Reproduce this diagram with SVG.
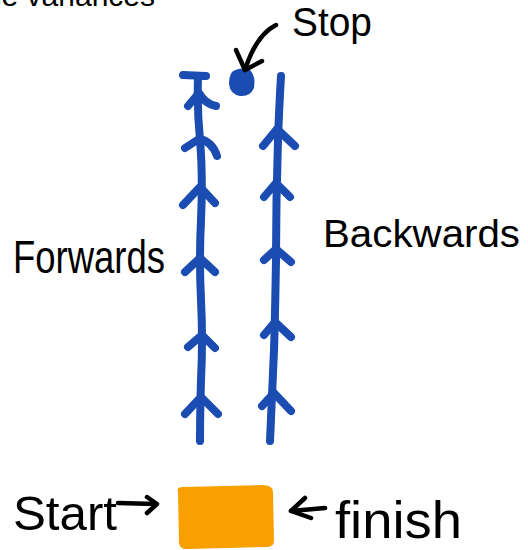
<svg xmlns="http://www.w3.org/2000/svg" width="528" height="550" viewBox="0 0 528 550">
<style>
.lbl{font-family:"Liberation Sans",Arial,sans-serif;fill:#000}
.blue{fill:none;stroke:#1a4cb2;stroke-width:8;stroke-linecap:round;stroke-linejoin:round}
.ink{fill:none;stroke:#000;stroke-width:4.5;stroke-linecap:round;stroke-linejoin:round}
</style>
<rect width="528" height="550" fill="#fff"/>
<text class="lbl" x="155" y="6" font-size="30" text-anchor="end">the variances</text>

<g id="forwards-track">
<path class="blue" d="M183 75 L206 76 M198 76 Q197 110 200 140 Q203 175 201 220 Q199 260 201 300 Q203 340 201 380 Q200 415 200 441"/>
<path class="blue" d="M188 106 L199 93 Q205 104 216 106"/>
<path class="blue" d="M185 148 L199 139 Q212 141 217 156"/>
<path class="blue" d="M183 205 L200 187 L215 203"/>
<path class="blue" d="M185 272 L200 258 L215 272"/>
<path class="blue" d="M188 347 L202 335 L215 348"/>
<path class="blue" d="M185 414 L201 397 L218 414"/>
</g>

<g id="backwards-track">
<path class="blue" d="M281 76 Q279 110 278 140 Q276 200 276 260 Q275 320 274 350 Q272 400 270 441"/>
<path class="blue" d="M263 146 L277 129 L295 146"/>
<path class="blue" d="M264 197 L276 183 L290 197"/>
<path class="blue" d="M264 260 L276 249 L291 262"/>
<path class="blue" d="M264 335 L275 322 L291 337"/>
<path class="blue" d="M262 406 L274 393 L291 411"/>
</g>

<g id="stop-dot">
<path d="M232 72 Q240 66 250 70 Q256 76 254 88 Q250 97 240 96 Q230 94 229 84 Q229 76 232 72 Z" fill="#1a4cb2"/>
</g>

<g id="labels">
<text class="lbl" x="292" y="36" font-size="40" textLength="80" lengthAdjust="spacingAndGlyphs">Stop</text>
<text class="lbl" x="13" y="273" font-size="46" textLength="152" lengthAdjust="spacingAndGlyphs">Forwards</text>
<text class="lbl" x="323" y="247" font-size="38" textLength="197" lengthAdjust="spacingAndGlyphs">Backwards</text>
<text class="lbl" x="13" y="530" font-size="48" textLength="104" lengthAdjust="spacingAndGlyphs">Start</text>
<text class="lbl" x="335" y="538" font-size="52" textLength="127" lengthAdjust="spacingAndGlyphs">finish</text>
</g>

<g id="box">
<path d="M178 492 Q176 487 183 487 L262 485 Q273 485 273 492 L274 541 Q274 547 266 547 L186 549 Q180 549 179 543 Z" fill="#f7a000"/>
</g>

<g id="connectors">
<path class="ink" d="M276 25 Q256 35 245 70"/>
<path class="ink" d="M236 50 L245 70 L262 61"/>
<path class="ink" d="M118 503 L156 504"/>
<path class="ink" d="M147 497 L157 504 L147 513"/>
<path class="ink" d="M325 508 L291 511"/>
<path class="ink" d="M305 498 L291 511 L311 518"/>
</g>
</svg>
